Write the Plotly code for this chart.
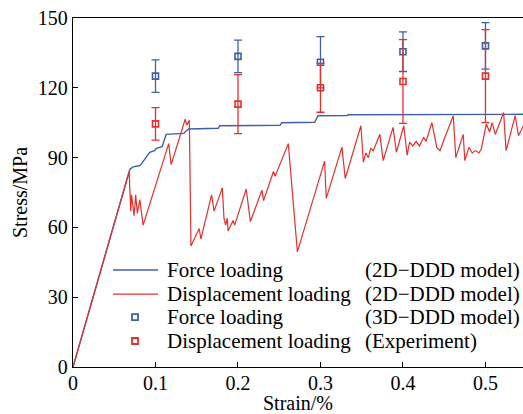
import plotly.graph_objects as go

# Force loading (2D-DDD model)
force_x = [0, 0.069, 0.073, 0.081, 0.083, 0.089, 0.093, 0.099, 0.101, 0.108, 0.113, 0.134, 0.140,
           0.176, 0.178, 0.251, 0.253, 0.293, 0.297, 0.332, 0.334, 0.546]
force_y = [0, 85, 86, 86.6, 87.3, 90, 92.3, 93, 94, 94.7, 100, 100.4, 102.3,
           102.6, 103.7, 103.9, 105, 105.2, 108, 108.1, 108.4, 108.6]

# Displacement loading (2D-DDD model)
disp_x = [0, 0.068, 0.070, 0.071, 0.074, 0.076, 0.078, 0.081, 0.085, 0.116, 0.119, 0.136, 0.138, 0.141,
          0.143, 0.153, 0.155, 0.168, 0.171, 0.181, 0.183, 0.185, 0.187, 0.188, 0.194, 0.196, 0.210,
          0.215, 0.229, 0.231, 0.243, 0.245, 0.261, 0.272, 0.305, 0.307, 0.326, 0.330, 0.349, 0.352,
          0.355, 0.358, 0.361, 0.364, 0.372, 0.376, 0.388, 0.392, 0.401, 0.405, 0.408, 0.412, 0.416,
          0.420, 0.425, 0.428, 0.435, 0.441, 0.445, 0.450, 0.461, 0.464, 0.473, 0.475, 0.480, 0.484,
          0.488, 0.492, 0.495, 0.501, 0.505, 0.508, 0.512, 0.522, 0.525, 0.536, 0.540, 0.546]
disp_y = [0, 84, 67, 74, 65, 74, 66, 72, 61, 96, 87, 106.5, 104, 106,
          52, 59.5, 55, 74, 67, 77, 64, 61, 64, 58.5, 63, 61, 76.5,
          62.5, 76, 71.5, 84, 82, 96, 49.5, 88.5, 72.5, 94.5, 81, 103.7, 88,
          92, 90, 94, 93, 100, 88.7, 103, 92.3, 103.7, 91, 96.6, 95, 97,
          95, 98.7, 97, 105, 94.4, 93, 98, 108, 90, 100, 88.7, 94.4, 92,
          93, 92, 93.7, 104.4, 101, 105, 100, 109.4, 93, 108, 99.4, 103.7]

# Force loading (3D-DDD model)
f3d_x = [0.1, 0.2, 0.3, 0.4, 0.5]
f3d_y = [125, 133.5, 131, 135.5, 138]
f3d_err = [7, 7, 11, 8.5, 10]

# Displacement loading (Experiment)
exp_x = [0.1, 0.2, 0.3, 0.4, 0.5]
exp_y = [104.5, 113, 120, 122.7, 125]
exp_err = [7, 12.7, 10.5, 18, 20]

x_ticks = [0, 0.1, 0.2, 0.3, 0.4, 0.5]
x_ticklabels = ["0", "0.1", "0.2", "0.3", "0.4", "0.5"]
y_ticks = [0, 30, 60, 90, 120, 150]

legend_names = ["Force loading", "Displacement loading", "Force loading", "Displacement loading"]
legend_models = ["(2D\u2212DDD model)", "(2D\u2212DDD model)", "(3D\u2212DDD model)", "(Experiment)"]

BLUE = "#3f5fa8"
RED = "#e3302f"
FONT = "Liberation Serif"

fig = go.Figure()
fig.add_trace(go.Scatter(x=force_x, y=force_y, mode="lines", name=legend_names[0],
                         line=dict(color=BLUE, width=1.4)))
fig.add_trace(go.Scatter(x=disp_x, y=disp_y, mode="lines", name=legend_names[1],
                         line=dict(color=RED, width=1.2)))
fig.add_trace(go.Scatter(x=f3d_x, y=f3d_y, mode="markers", name=legend_names[2],
                         marker=dict(symbol="square-open", size=6, color=BLUE, line=dict(width=1.6)),
                         error_y=dict(type="data", array=f3d_err, color=BLUE, thickness=1.3, width=4)))
fig.add_trace(go.Scatter(x=exp_x, y=exp_y, mode="markers", name=legend_names[3],
                         marker=dict(symbol="square-open", size=6, color=RED, line=dict(width=1.6)),
                         error_y=dict(type="data", array=exp_err, color=RED, thickness=1.3, width=4)))

# Manual two-column legend (paper coordinates)
row_y = [0.278, 0.209, 0.143, 0.0745]
colors = [BLUE, RED, BLUE, RED]
for i, (nm, md, yy, c) in enumerate(zip(legend_names, legend_models, row_y, colors)):
    fig.add_annotation(text=nm, x=0.2044, y=yy, xref="paper", yref="paper",
                       xanchor="left", yanchor="middle", showarrow=False,
                       font=dict(family=FONT, size=21, color="black"))
    fig.add_annotation(text=md, x=0.6444, y=yy, xref="paper", yref="paper",
                       xanchor="left", yanchor="middle", showarrow=False,
                       font=dict(family=FONT, size=21, color="black"))
    if i < 2:
        fig.add_shape(type="line", xref="paper", yref="paper", x0=0.0889, x1=0.1889,
                      y0=yy, y1=yy, line=dict(color=c, width=1.6 if i == 0 else 1.3))
    else:
        fig.add_shape(type="rect", xref="paper", yref="paper",
                      xsizemode="pixel", ysizemode="pixel", xanchor=0.1378, yanchor=yy,
                      x0=-3, x1=3, y0=-3, y1=3, line=dict(color=c, width=1.8),
                      fillcolor="white")

fig.update_layout(
    width=523, height=414,
    margin=dict(l=73, r=0, t=18, b=47),
    paper_bgcolor="white", plot_bgcolor="white",
    font=dict(family=FONT, size=20, color="black"),
    showlegend=False,
    xaxis=dict(range=[0, 0.5455], tickvals=x_ticks, ticktext=x_ticklabels,
               ticks="inside", ticklen=5, tickcolor="black", showline=True, linecolor="black",
               linewidth=1.3, mirror=True, showgrid=False, zeroline=False,
               ticklabelstandoff=-2,
               title=dict(text="Strain/%", standoff=3, font=dict(size=20))),
    yaxis=dict(range=[0, 150], tickvals=y_ticks, ticks="inside", ticklen=5, tickcolor="black",
               showline=True, linecolor="black", linewidth=1.3, mirror=False,
               showgrid=False, zeroline=False,
               title=dict(text="Stress/MPa", standoff=4, font=dict(size=20))),
)

fig.write_html("out.html")
